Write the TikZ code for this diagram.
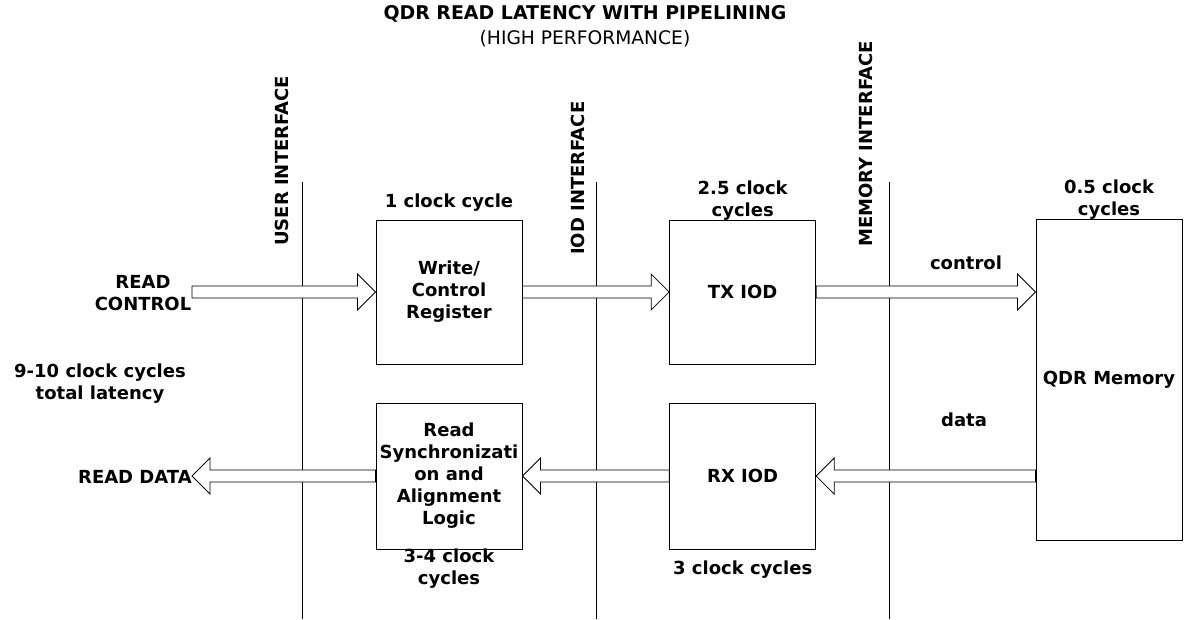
\documentclass[tikz,border=0pt]{standalone}
\usepackage{fontspec}
\setmainfont{DejaVu Sans}
\usetikzlibrary{positioning,calc}
\tikzset{
  blk/.style={draw,rectangle,line width=0.75pt,minimum width=109.5pt,minimum height=108pt,align=center,inner sep=1pt,font=\fontsize{13.5}{16.5}\selectfont\bfseries},
  lbl/.style={inner sep=0pt,align=center,font=\fontsize{13.5}{16.5}\selectfont\bfseries},
  vlbl/.style={lbl,rotate=90,anchor=west},
  ifline/.style={line width=0.75pt},
  fatarr/.style={draw,fill=white,line width=0.6pt,to path={
    let \p1=(\tikztostart), \p2=(\tikztotarget), \n1={sign(\x2-\x1)} in
    (\x1,\y1+4.5pt) -- (\x2-\n1*13.5pt,\y1+4.5pt) -- (\x2-\n1*13.5pt,\y1+13.5pt)
    -- (\x2,\y1) -- (\x2-\n1*13.5pt,\y1-13.5pt) -- (\x2-\n1*13.5pt,\y1-4.5pt)
    -- (\x1,\y1-4.5pt) -- cycle}}
}
\begin{document}
\begin{tikzpicture}[x=0.75pt,y=-0.75pt]
  \useasboundingbox (0,0) rectangle (1193,619);

  % title
  \node[lbl,font=\fontsize{14.2}{17}\selectfont\bfseries] (ttl) at (585,14) {QDR READ LATENCY WITH PIPELINING};
  \node[lbl,font=\fontsize{14}{17}\selectfont] (subttl) at (585,39) {(HIGH PERFORMANCE)};

  % interface boundaries
  \draw[ifline] (302,182) -- (302,619);
  \draw[ifline] (596,182) -- (596,619);
  \draw[ifline] (889,182) -- (889,619);
  \node[vlbl] (uif) at (282,246) {USER INTERFACE};
  \node[vlbl] (iif) at (578,255) {IOD INTERFACE};
  \node[vlbl] (mif) at (866,247) {MEMORY INTERFACE};

  % blocks
  \node[blk] (wreg) at (449,292) {Write/\\Control\\Register};
  \node[blk, right=110pt of wreg] (txiod) {TX IOD};
  \node[blk, minimum height=109.5pt] (sync) at (449,476) {Read\\Synchronizati\\on and\\Alignment\\Logic};
  \node[blk, minimum height=109.5pt, right=110pt of sync] (rxiod) {RX IOD};
  \node[blk, minimum height=240.75pt] (qdr) at (1109,379.5) {QDR Memory};

  % latencies
  \node[lbl, above=6pt of wreg] (lwreg) {1 clock cycle};
  \node[lbl, above=-1pt of txiod] (ltx) {2.5 clock\\cycles};
  \node[lbl, above=-1pt of qdr] (lqdr) {0.5 clock\\cycles};
  \node[lbl, below=-1pt of sync] (lsync) {3-4 clock\\cycles};
  \node[lbl, below=8pt of rxiod] (lrx) {3 clock cycles};
  \node[lbl] (ltot) at (100,384) {9-10 clock cycles\\total latency};

  % external signals
  \node[lbl] (rctl) at (143,293) {READ\\CONTROL};
  \coordinate (rcin) at (192,292);
  \node[lbl, anchor=east] (rdata) at (192,477) {READ DATA};
  \node[lbl] (ctl) at (966,263) {control};
  \node[lbl] (dat) at (964,420) {data};

  \draw[fatarr] (rcin) to (wreg.west);
  \draw[fatarr] (wreg.east) to (txiod.west);
  \draw[fatarr] (txiod.east) to (txiod.east -| qdr.west);
  \draw[fatarr] (qdr.west |- rxiod.east) to (rxiod.east);
  \draw[fatarr] (rxiod.west) to (sync.east);
  \draw[fatarr] (sync.west) to (rdata.east);
\end{tikzpicture}
\end{document}
